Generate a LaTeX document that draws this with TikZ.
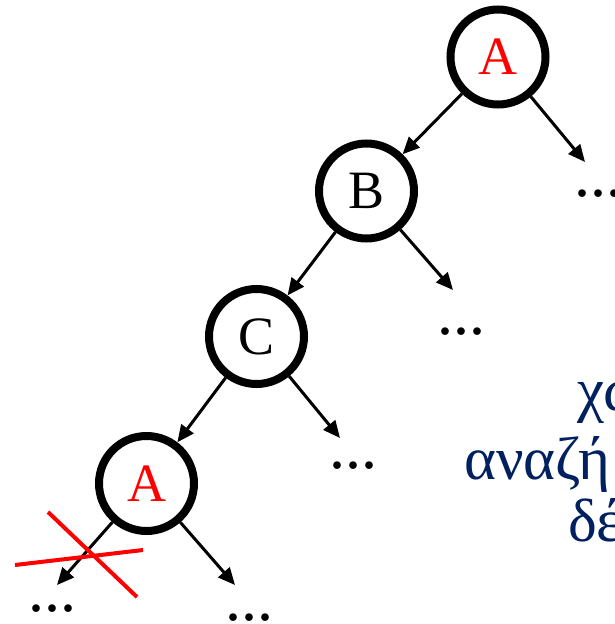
\documentclass[tikz,border=0pt]{standalone}
\usepackage{fontspec}
\setmainfont{Liberation Serif}
\usepackage{tikz}
\usetikzlibrary{arrows.meta}
\definecolor{navy}{RGB}{0,32,96}

\begin{document}
\begin{tikzpicture}[x=1pt,y=-1pt,
  state/.style={circle,draw,line width=8pt,minimum size=95pt,inner sep=0pt,font=\fontsize{54}{54}\selectfont},
  edge/.style={line width=3pt,-{Triangle[length=17pt,width=15pt]}},
  more/.style={anchor=base,inner sep=0pt,font=\fontsize{64}{64}\selectfont},
  cut/.style={red,line width=4pt},
  note/.style={anchor=base west,inner sep=0pt,text=navy,font=\fontsize{61}{61}\selectfont}]
\clip (0,0) rectangle (614,624);
% the search path
\node[state,text=red] (A1) at (498,57) {A};
\node[state] (B) at (366.5,191) {B};
\node[state] (C) at (256.5,336.5) {C};
\node[state,text=red] (A2) at (146.5,483.5) {A};
% loose ends
\coordinate (A1r) at (585,162);
\coordinate (Br) at (453,290);
\coordinate (Cr) at (340,438);
\coordinate (A2l) at (57,585);
\coordinate (A2r) at (235,585);
\node[more] (A1rd) at (598,196) {...};
\node[more] (Brd) at (461,334) {...};
\node[more] (Crd) at (353,468) {...};
\node[more] (A2ld) at (52,611) {...};
\node[more] (A2rd) at (249,620) {...};
\draw[edge] (A1) -- (B);
\draw[edge] (A1) -- (A1r);
\draw[edge] (B) -- (C);
\draw[edge] (B) -- (Br);
\draw[edge] (C) -- (A2);
\draw[edge] (C) -- (Cr);
\draw[edge] (A2) -- (A2l);
\draw[edge] (A2) -- (A2r);
% cut off branch
\draw[cut] (48,512) -- (137,597);
\draw[cut] (15,565) -- (143,550);
% side note
\node[note] (n1) at (577,410) {χω};
\node[note] (n2) at (464,479) {αναζή};
\node[note] (n3) at (568,541) {δέ};
\end{tikzpicture}
\end{document}
